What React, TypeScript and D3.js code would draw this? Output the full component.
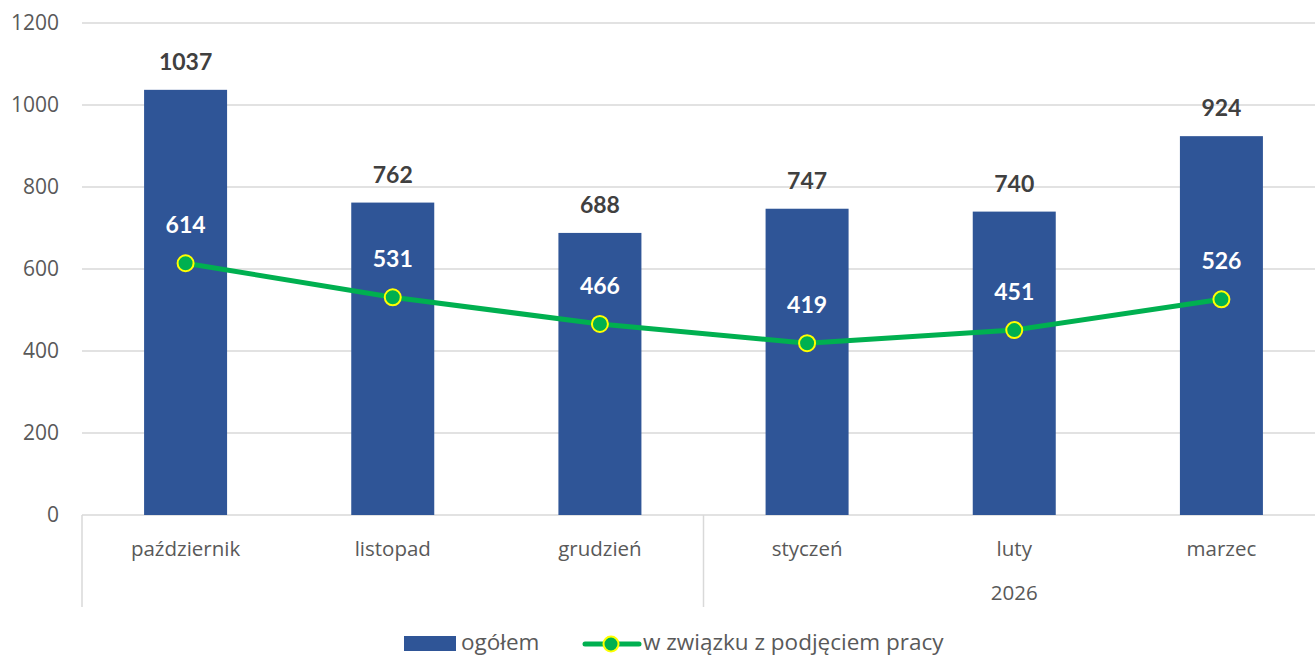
import * as d3 from 'd3';
import React, { useEffect, useRef } from 'react';

const months = ['październik', 'listopad', 'grudzień', 'styczeń', 'luty', 'marzec'];
const totalValues = [1037, 762, 688, 747, 740, 924];
const jobValues = [614, 531, 466, 419, 451, 526];
const yTicks = [0, 200, 400, 600, 800, 1000, 1200];
const yearLabel = '2026';
const yearStartIndex = 3;
const seriesNames = ['ogółem', 'w związku z podjęciem pracy'];

const FONT = '"Open Sans", Lato, sans-serif';
const LABEL_FONT = 'Lato, "Open Sans", sans-serif';

export default function App() {
    const svgRef = useRef<SVGSVGElement | null>(null);

    useEffect(() => {
        if (!svgRef.current) return;
        const width = 1315;
        const height = 658;
        const marginLeft = 82;
        const plotRight = 1325; // plot area runs slightly past the image edge
        const marginTop = 23;
        const plotBottom = 515;

        const svg = d3.select(svgRef.current);
        svg.selectAll('*').remove();
        svg.attr('width', width).attr('height', height).style('font-family', FONT);

        const x = d3.scaleBand<string>()
            .domain(months)
            .range([marginLeft, plotRight])
            .padding(0);
        const y = d3.scaleLinear().domain([0, 1200]).range([plotBottom, marginTop]);
        const barW = 83;
        const cx = (m: string) => (x(m) ?? 0) + x.bandwidth() / 2;

        // gridlines
        svg.append('g')
            .selectAll('line')
            .data(yTicks)
            .join('line')
            .attr('x1', marginLeft)
            .attr('x2', plotRight)
            .attr('y1', d => y(d))
            .attr('y2', d => y(d))
            .attr('stroke', '#d9d9d9')
            .attr('stroke-width', 1.5);

        // y tick labels
        svg.append('g')
            .selectAll('text')
            .data(yTicks)
            .join('text')
            .attr('x', 59)
            .attr('y', d => y(d))
            .attr('dy', '0.35em')
            .attr('text-anchor', 'end')
            .attr('fill', '#595959')
            .style('font-size', '21px')
            .text(d => d);

        // bars
        svg.append('g')
            .attr('fill', '#2F5597')
            .selectAll('rect')
            .data(totalValues)
            .join('rect')
            .attr('x', (d, i) => cx(months[i]) - barW / 2)
            .attr('y', d => y(d))
            .attr('width', barW)
            .attr('height', d => y(0) - y(d));

        // category axis lines
        const groupBottom = 607;
        const sepX = x(months[yearStartIndex]) ?? 0;
        svg.append('g')
            .attr('stroke', '#d9d9d9')
            .attr('stroke-width', 1.5)
            .selectAll('line')
            .data([marginLeft, sepX])
            .join('line')
            .attr('x1', d => d)
            .attr('x2', d => d)
            .attr('y1', plotBottom)
            .attr('y2', groupBottom);

        // x labels
        svg.append('g')
            .selectAll('text')
            .data(months)
            .join('text')
            .attr('x', d => cx(d))
            .attr('y', 556)
            .attr('text-anchor', 'middle')
            .attr('fill', '#595959')
            .style('font-size', '20.5px')
            .text(d => d);

        const yearMid = (cx(months[yearStartIndex]) + cx(months[months.length - 1])) / 2;
        svg.append('text')
            .attr('x', yearMid)
            .attr('y', 600)
            .attr('text-anchor', 'middle')
            .attr('fill', '#595959')
            .style('font-size', '20.5px')
            .text(yearLabel);

        // bar labels
        svg.append('g')
            .selectAll('text')
            .data(totalValues)
            .join('text')
            .attr('x', (d, i) => cx(months[i]))
            .attr('y', d => y(d) - 20)
            .attr('text-anchor', 'middle')
            .attr('fill', '#404040')
            .style('font-family', LABEL_FONT)
            .style('font-size', '23px')
            .style('font-weight', 'bold')
            .text(d => d);

        // line
        const line = d3.line<number>()
            .x((d, i) => cx(months[i]))
            .y(d => y(d));
        svg.append('path')
            .datum(jobValues)
            .attr('d', line)
            .attr('fill', 'none')
            .attr('stroke', '#00B050')
            .attr('stroke-width', 5)
            .attr('stroke-linejoin', 'round');

        svg.append('g')
            .selectAll('circle')
            .data(jobValues)
            .join('circle')
            .attr('cx', (d, i) => cx(months[i]))
            .attr('cy', d => y(d))
            .attr('r', 8)
            .attr('fill', '#00B050')
            .attr('stroke', '#FFFF00')
            .attr('stroke-width', 2);

        svg.append('g')
            .selectAll('text')
            .data(jobValues)
            .join('text')
            .attr('x', (d, i) => cx(months[i]))
            .attr('y', d => y(d) - 30)
            .attr('text-anchor', 'middle')
            .attr('fill', '#ffffff')
            .style('font-family', LABEL_FONT)
            .style('font-size', '23px')
            .style('font-weight', 'bold')
            .text(d => d);

        // legend
        const lg = svg.append('g');
        const ly = 642;
        lg.append('rect')
            .attr('x', 404).attr('y', ly - 6)
            .attr('width', 52).attr('height', 15)
            .attr('fill', '#2F5597');
        lg.append('text')
            .attr('x', 461).attr('y', ly).attr('dy', '0.35em')
            .attr('fill', '#595959')
            .style('font-size', '22.5px')
            .text(seriesNames[0]);
        lg.append('line')
            .attr('x1', 585).attr('x2', 639)
            .attr('y1', ly + 2).attr('y2', ly + 2)
            .attr('stroke', '#00B050').attr('stroke-width', 5)
            .attr('stroke-linecap', 'round');
        lg.append('circle')
            .attr('cx', 611).attr('cy', ly + 2).attr('r', 7.5)
            .attr('fill', '#00B050')
            .attr('stroke', '#FFFF00').attr('stroke-width', 2);
        lg.append('text')
            .attr('x', 643).attr('y', ly).attr('dy', '0.35em')
            .attr('fill', '#595959')
            .style('font-size', '22.5px')
            .text(seriesNames[1]);
    }, []);

    return (
        <div style={{ position: 'fixed', top: 0, left: 0, width: 1315, height: 658, background: '#fff', overflow: 'hidden' }}>
            <svg ref={svgRef} style={{ display: 'block' }}></svg>
        </div>
    );
}
